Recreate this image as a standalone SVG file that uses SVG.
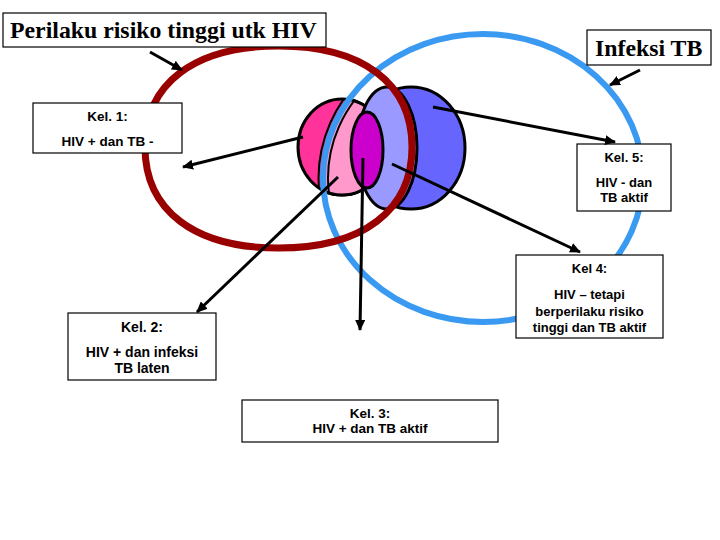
<svg xmlns="http://www.w3.org/2000/svg" width="720" height="540" viewBox="0 0 720 540">
<style>
.box{fill:#fff;stroke:#000;stroke-width:1.2}
.title{font-family:"Liberation Serif","Times New Roman",serif;font-weight:bold;font-size:23.8px;fill:#000}
.lbl{font-family:"Liberation Sans",Arial,sans-serif;font-weight:bold;font-size:13px;fill:#000;text-anchor:middle}
.venn{stroke:#000;stroke-width:3}
.arr{stroke:#000;stroke-width:3;fill:none;marker-end:url(#ah)}
</style>
<defs>
<marker id="ah" markerUnits="userSpaceOnUse" markerWidth="12" markerHeight="10" refX="10" refY="5" orient="auto">
<path d="M0,0 L11,5 L0,10 Z" fill="#000"/>
</marker>
<clipPath id="tbIn"><ellipse cx="483" cy="178" rx="160" ry="144"/></clipPath>
<clipPath id="pinkC"><ellipse cx="342" cy="147" rx="44" ry="48"/></clipPath>
</defs>
<rect width="720" height="540" fill="#fff"/>

<g id="venn">
<ellipse class="venn" cx="411" cy="148" rx="54" ry="61" fill="#6666FF"/>
<ellipse class="venn" cx="342" cy="147" rx="44" ry="48" fill="#FF3399"/>
<g clip-path="url(#tbIn)"><ellipse class="venn" cx="342" cy="147" rx="44" ry="48" fill="#FF99CC"/></g>
<ellipse class="venn" cx="387" cy="148" rx="30" ry="61" fill="#9999FF"/>
<ellipse class="venn" cx="367" cy="150" rx="16" ry="38" fill="#CC00CC"/>
</g>

<g id="ring-tb">
<ellipse cx="483" cy="178" rx="160" ry="144" fill="none" stroke="#3A9AF2" stroke-width="6"/>
<g clip-path="url(#pinkC)">
<ellipse cx="483" cy="178" rx="155" ry="139" fill="none" stroke="#000" stroke-width="2"/>
<ellipse cx="483" cy="178" rx="164.5" ry="148.5" fill="none" stroke="#000" stroke-width="2"/>
</g>
</g>
<g id="ring-hiv">
<path d="M412,147 C412,210.6 362.6,248 278.5,248 C194.4,248 145,210.6 145,147 C145,83.4 194.4,46 278.5,46 C362.6,46 412,83.4 412,147 Z" fill="none" stroke="#990000" stroke-width="7"/>
</g>

<g id="title-hiv">
<rect class="box" x="3" y="13" width="323" height="34"/>
<text class="title" x="10" y="38">Perilaku risiko tinggi utk HIV</text>
</g>
<g id="title-tb">
<rect class="box" x="587" y="30" width="124" height="35"/>
<text class="title" x="595" y="56">Infeksi TB</text>
</g>
<g id="kel1">
<rect class="box" x="33" y="103" width="149" height="50"/>
<text class="lbl" x="107.5" y="121" style="font-size:13.5px">Kel. 1:</text>
<text class="lbl" x="107.5" y="146" style="font-size:13.5px">HIV + dan TB -</text>
</g>
<g id="kel5">
<rect class="box" x="577" y="144" width="94" height="67"/>
<text class="lbl" x="624" y="162">Kel. 5:</text>
<text class="lbl" x="624" y="187">HIV - dan</text>
<text class="lbl" x="624" y="202">TB aktif</text>
</g>
<g id="kel4">
<rect class="box" x="516" y="255" width="147" height="83"/>
<text class="lbl" x="589.5" y="273">Kel 4:</text>
<text class="lbl" x="589.5" y="299">HIV – tetapi</text>
<text class="lbl" x="589.5" y="316">berperilaku risiko</text>
<text class="lbl" x="589.5" y="332">tinggi dan TB aktif</text>
</g>
<g id="kel2">
<rect class="box" x="68" y="313" width="148" height="67"/>
<text class="lbl" x="142" y="332" style="font-size:14px">Kel. 2:</text>
<text class="lbl" x="142" y="357" style="font-size:14px">HIV + dan infeksi</text>
<text class="lbl" x="142" y="373" style="font-size:14px">TB laten</text>
</g>
<g id="kel3">
<rect class="box" x="242" y="400" width="256" height="42" stroke-width="2"/>
<text class="lbl" x="370" y="418" style="font-size:13.5px">Kel. 3:</text>
<text class="lbl" x="370" y="433" style="font-size:13.5px">HIV + dan TB aktif</text>
</g>

<g id="connectors">
<line class="arr" x1="150" y1="52" x2="182" y2="70"/>
<line class="arr" x1="640" y1="70" x2="610" y2="85"/>
<line class="arr" x1="303" y1="137" x2="183" y2="167"/>
<line class="arr" x1="433" y1="107" x2="615" y2="142"/>
<line class="arr" x1="392" y1="164" x2="580" y2="252"/>
<line class="arr" x1="338" y1="177" x2="197" y2="312"/>
<line class="arr" x1="363" y1="158" x2="360" y2="330"/>
</g>
</svg>
